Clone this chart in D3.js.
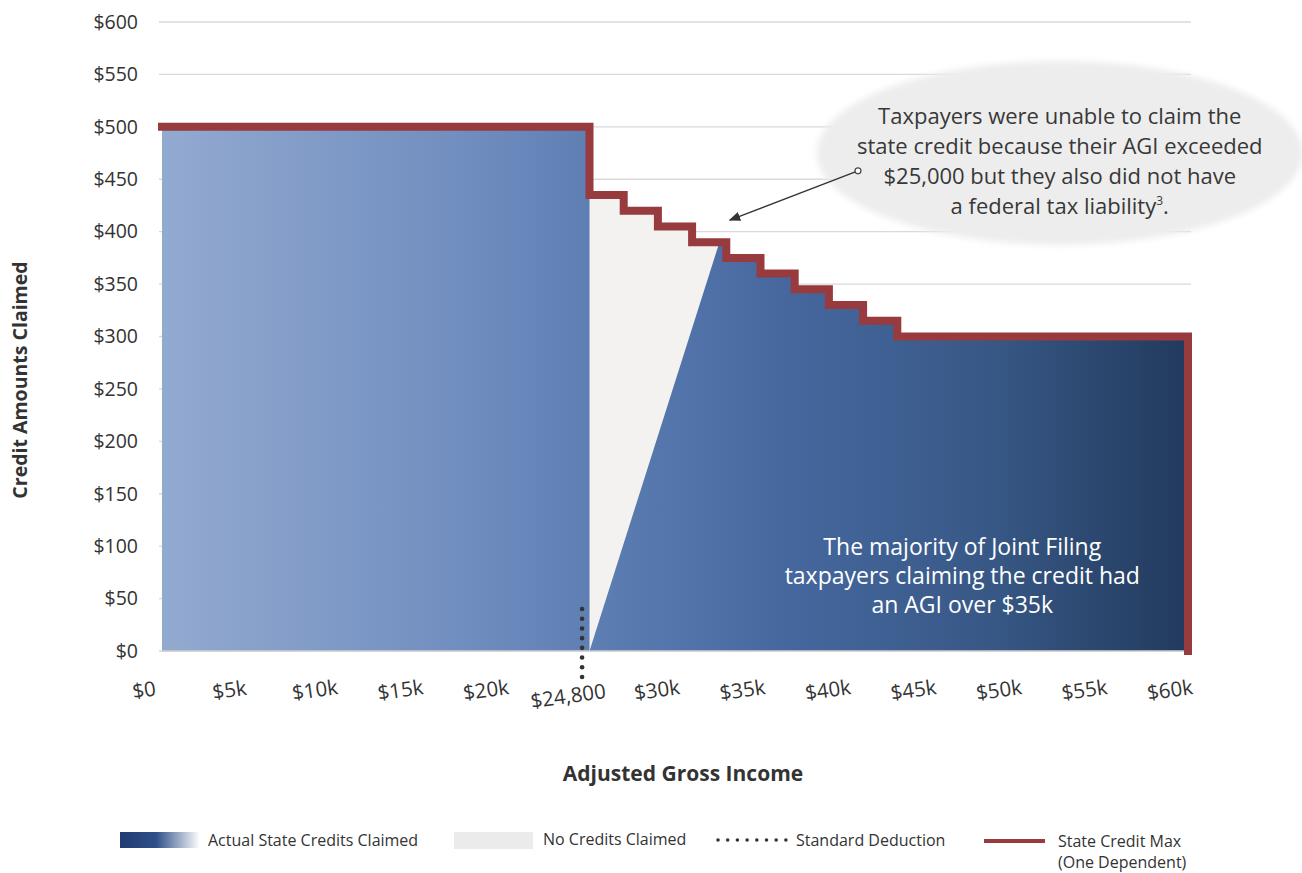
<!DOCTYPE html>
<html>
<head>
<meta charset="utf-8">
<script src="https://cdn.jsdelivr.net/npm/d3@7"></script>
<style>
  body { margin: 0; background: #fff; font-family: "Open Sans", sans-serif; }
  svg text { fill: #333; }
</style>
</head>
<body>
<div id="chart"></div>
<script>
// Step breakpoints of the state credit max (AGI, $) and the max credit in each band
var stepStarts = [0, 25000, 27000, 29000, 31000, 33000, 35000, 37000, 39000, 41000, 43000];
var creditMax = [500, 435, 420, 405, 390, 375, 360, 345, 330, 315, 300];
var incomeEnd = 60000;

// Where claimed credits pick up again after the $25k cut-off
var rampIncome = [25000, 32600];
var rampCredit = [0, 390];

var standardDeduction = 24800;

var xTicks = [0, 5000, 10000, 15000, 20000, 24800, 30000, 35000, 40000, 45000, 50000, 55000, 60000];
var xTickLabels = ["$0", "$5k", "$10k", "$15k", "$20k", "$24,800", "$30k", "$35k", "$40k", "$45k", "$50k", "$55k", "$60k"];
var yTicks = d3.range(0, 601, 50);

var calloutLines = ["Taxpayers were unable to claim the", "state credit because their AGI exceeded",
  "$25,000 but they also did not have", "a federal tax liability"];
var noteLines = ["The majority of Joint Filing", "taxpayers claiming the credit had", "an AGI over $35k"];

var svgWidth = 1302;
var svgHeight = 873;
var margin = { top: 22, right: 114, bottom: 222, left: 162 };
var width = svgWidth - margin.left - margin.right;
var height = svgHeight - margin.top - margin.bottom;

var svg = d3.select("#chart").append("svg")
  .attr("width", svgWidth)
  .attr("height", svgHeight);

var defs = svg.append("defs");

var x = d3.scaleLinear().domain([0, incomeEnd]).range([0, width]);
var y = d3.scaleLinear().domain([0, 600]).range([height, 0]);

var grad = defs.append("linearGradient")
  .attr("id", "blueGrad")
  .attr("gradientUnits", "userSpaceOnUse")
  .attr("x1", x(0)).attr("x2", x(incomeEnd)).attr("y1", 0).attr("y2", 0);
[[0, "#93aad0"], [0.3, "#6f8dbf"], [0.45, "#5a7bb0"], [0.6, "#46689f"], [0.8, "#385987"], [1, "#223a5d"]]
  .forEach(function (s) { grad.append("stop").attr("offset", s[0]).attr("stop-color", s[1]); });

var legendGrad = defs.append("linearGradient").attr("id", "legendGrad");
legendGrad.append("stop").attr("offset", 0).attr("stop-color", "#213d72");
legendGrad.append("stop").attr("offset", 0.45).attr("stop-color", "#2d4f88");
legendGrad.append("stop").attr("offset", 1).attr("stop-color", "#ffffff");

defs.append("filter").attr("id", "soft")
  .attr("x", "-10%").attr("y", "-10%").attr("width", "120%").attr("height", "120%")
  .append("feGaussianBlur").attr("stdDeviation", 3);

defs.append("marker")
  .attr("id", "arrow")
  .attr("viewBox", "0 0 10 10")
  .attr("refX", 9).attr("refY", 5)
  .attr("markerWidth", 9).attr("markerHeight", 9)
  .attr("orient", "auto")
  .append("path").attr("d", "M0,1L10,5L0,9Z").attr("fill", "#333");

var g = svg.append("g").attr("transform", `translate(${margin.left}, ${margin.top})`);

// gridlines
g.append("g").selectAll("line")
  .data(yTicks)
  .enter().append("line")
  .attr("x1", -3).attr("x2", width + 3)
  .attr("y1", d => y(d)).attr("y2", d => y(d))
  .attr("stroke", "#d9d9d9").attr("stroke-width", 1.3);

// step points for the credit max
var stepPts = [];
stepStarts.forEach(function (s, i) {
  var end = i < stepStarts.length - 1 ? stepStarts[i + 1] : incomeEnd;
  stepPts.push([s, creditMax[i]]);
  stepPts.push([end, creditMax[i]]);
});

// gray "no credits" area under the whole max curve
var area = d3.area().x(d => x(d[0])).y0(y(0)).y1(d => y(d[1]));
g.append("path")
  .datum(stepPts)
  .attr("d", area)
  .attr("fill", "#f4f2f1");

// claimed credits polygon
var claimed = [[0, 0]];
stepPts.forEach(function (p) { if (p[0] <= rampIncome[0]) claimed.push(p); });
claimed.push([rampIncome[0], rampCredit[0]]);
claimed.push([rampIncome[1], rampCredit[1]]);
stepPts.forEach(function (p) { if (p[0] > rampIncome[1]) claimed.push(p); });
claimed.push([incomeEnd, 0]);

var line = d3.line().x(d => x(d[0])).y(d => y(d[1]));
g.append("path")
  .attr("d", line(claimed) + "Z")
  .attr("fill", "url(#blueGrad)");

// baseline
g.append("line")
  .attr("x1", 0).attr("x2", width)
  .attr("y1", y(0)).attr("y2", y(0))
  .attr("stroke", "#d0d0d0").attr("stroke-width", 1.5);

// state credit max line
var maxLine = stepPts.concat([[incomeEnd, 0]]);
g.append("path")
  .attr("d", line(maxLine))
  .attr("fill", "none")
  .attr("stroke", "#983b3e")
  .attr("stroke-width", 8)
  .attr("stroke-linejoin", "miter")
  .attr("stroke-linecap", "square");

// standard deduction dotted line
g.append("g").selectAll("circle")
  .data(d3.range(8))
  .enter().append("circle")
  .attr("cx", x(standardDeduction) - 4)
  .attr("cy", d => y(40) + d * 9.7)
  .attr("r", 2.3)
  .attr("fill", "#333");

// y axis labels
g.append("g").selectAll("text")
  .data(yTicks)
  .enter().append("text")
  .attr("x", -24)
  .attr("y", d => y(d))
  .attr("dy", "0.35em")
  .attr("text-anchor", "end")
  .style("font-size", "19.5px")
  .text(d => "$" + d);

// x axis labels (slightly tilted; the deduction label sits a bit lower)
g.append("g").selectAll("text")
  .data(xTicks)
  .enter().append("text")
  .attr("transform", d => `translate(${x(d) - 18}, ${height + (d === standardDeduction ? 45 : 39)}) rotate(-8)`)
  .attr("dy", "0.35em")
  .attr("text-anchor", "middle")
  .style("font-size", "20.5px")
  .text((d, i) => xTickLabels[i]);

// axis titles
svg.append("text")
  .attr("transform", `translate(27, 380) rotate(-90)`)
  .attr("text-anchor", "middle")
  .style("font-size", "19.5px")
  .style("font-weight", "bold")
  .text("Credit Amounts Claimed");

svg.append("text")
  .attr("x", 683).attr("y", 781)
  .attr("text-anchor", "middle")
  .style("font-size", "21px")
  .style("font-weight", "bold")
  .text("Adjusted Gross Income");

// callout bubble
g.append("ellipse")
  .attr("cx", x(52500)).attr("cy", y(475))
  .attr("rx", 243).attr("ry", 92)
  .attr("fill", "#ededed")
  .attr("filter", "url(#soft)");

var callout = g.append("text")
  .attr("text-anchor", "middle")
  .style("font-size", "22px")
  .style("fill", "#383838");
calloutLines.forEach(function (t, i) {
  callout.append("tspan")
    .attr("x", x(52500))
    .attr("y", y(510) + i * 30 + 8)
    .text(t);
  if (i === calloutLines.length - 1) {
    callout.append("tspan").attr("dy", -9).style("font-size", "12px").text("3");
    callout.append("tspan").attr("dy", 9).text(".");
  }
});

g.append("line")
  .attr("x1", x(40700)).attr("y1", y(458))
  .attr("x2", x(33200)).attr("y2", y(411))
  .attr("stroke", "#333").attr("stroke-width", 1.3)
  .attr("marker-end", "url(#arrow)");
g.append("circle")
  .attr("cx", x(40700)).attr("cy", y(458))
  .attr("r", 3)
  .attr("fill", "#fff").attr("stroke", "#444").attr("stroke-width", 1.2);

// note on the blue area
var note = g.append("text")
  .attr("text-anchor", "middle")
  .style("font-size", "23px");
noteLines.forEach(function (t, i) {
  note.append("tspan")
    .attr("x", x(46800))
    .attr("y", y(99) + i * 29)
    .attr("dy", "0.35em")
    .style("fill", "#fff")
    .text(t);
});

// legend
var legend = svg.append("g").attr("transform", "translate(0, 840)");
legend.append("rect").attr("x", 120).attr("y", -8).attr("width", 80).attr("height", 16).attr("fill", "url(#legendGrad)");
legend.append("text").attr("x", 208).attr("y", 0).attr("dy", "0.35em").style("font-size", "16px").text("Actual State Credits Claimed");
legend.append("rect").attr("x", 454).attr("y", -8).attr("width", 79).attr("height", 17).attr("fill", "#ebebeb");
legend.append("text").attr("x", 543).attr("y", -1).attr("dy", "0.35em").style("font-size", "16px").text("No Credits Claimed");
legend.selectAll("circle.dot")
  .data(d3.range(8))
  .enter().append("circle")
  .attr("class", "dot")
  .attr("cx", d => 718 + d * 9.7)
  .attr("cy", 0)
  .attr("r", 1.8)
  .attr("fill", "#333");
legend.append("text").attr("x", 796).attr("y", 0).attr("dy", "0.35em").style("font-size", "16px").text("Standard Deduction");
legend.append("line").attr("x1", 984).attr("x2", 1045).attr("y1", 1).attr("y2", 1).attr("stroke", "#983b3e").attr("stroke-width", 4);
legend.append("text").attr("x", 1058).attr("y", 1).attr("dy", "0.35em").style("font-size", "16px").text("State Credit Max");
legend.append("text").attr("x", 1058).attr("y", 22).attr("dy", "0.35em").style("font-size", "16px").text("(One Dependent)");
</script>
</body>
</html>
